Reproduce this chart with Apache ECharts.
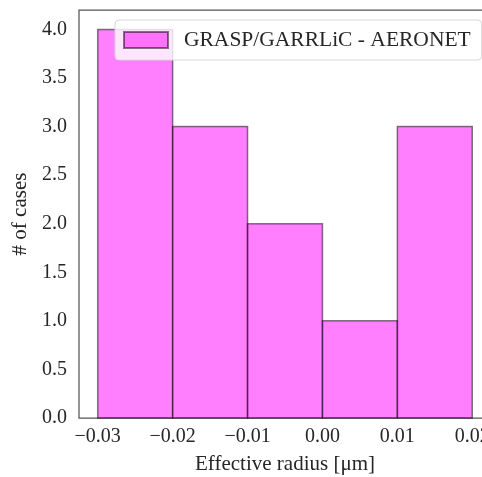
<!DOCTYPE html>
<html>
	<head>
		<meta charset="utf-8"/>
		<title>histogram</title>
		<style type="text/css">
			*{margin: 0;padding: 0;}
			html,body{background: #fff;}
			#chart{width: 482px;height: 477px;}
		</style>
		<script type="text/javascript" src="https://cdn.jsdelivr.net/npm/echarts@6/dist/echarts.min.js"></script>
	</head>
	<body>
		<div id="chart"></div>
		<script type="text/javascript">
			// histogram bins and counts
			var binEdges=[-0.03,-0.02,-0.01,0.00,0.01,0.02];
			var counts=[4,3,2,1,3];
			var xTicks=[-0.03,-0.02,-0.01,0.00,0.01,0.02];
			var yTicks=[0,0.5,1,1.5,2,2.5,3,3.5,4];
			var seriesName="GRASP/GARRLiC - AERONET";

			var font="'Liberation Serif','Times New Roman',serif";
			var bins=[];
			for(var i=0;i<counts.length;i++){
				bins.push([binEdges[i],binEdges[i+1],counts[i]]);
			}
			function onTick(v,list){
				for(var k=0;k<list.length;k++){
					if(Math.abs(v-list[k])<1e-9) return true;
				}
				return false;
			}

			var chart=echarts.init(document.getElementById('chart'));
			chart.setOption({
				animation:false,
				grid:{
					left:79,right:-9,top:10,bottom:59,
					outerBoundsMode:'none',containLabel:false,
					show:true,borderColor:'#555',borderWidth:1.25,backgroundColor:'#fff'
				},
				legend:{
					left:115,top:20,
					icon:'rect',itemWidth:44,itemHeight:16,
					padding:[9,11,9,8],
					backgroundColor:'rgba(255,255,255,0.8)',
					borderColor:'#d6d6d6',borderWidth:1,borderRadius:4,
					textStyle:{fontFamily:font,fontSize:21.5,color:'#262626',padding:[0,0,0,11]},
					data:[seriesName]
				},
				xAxis:{
					type:'value',min:-0.0325,max:0.0225,interval:0.0025,
					name:'Effective radius [μm]',nameLocation:'middle',nameGap:36,
					nameTextStyle:{fontFamily:font,fontSize:21,color:'#262626'},
					axisLine:{show:false},axisTick:{show:false},splitLine:{show:false},
					axisLabel:{
						fontFamily:font,fontSize:20,color:'#262626',margin:9,
						formatter:function(v){
							if(!onTick(v,xTicks)) return '';
							return v.toFixed(2).replace('-','\u2212');
						}
					}
				},
				yAxis:{
					type:'value',min:0,max:4.2,interval:0.5,
					name:'# of cases',nameLocation:'middle',nameGap:37,
					nameTextStyle:{fontFamily:font,fontSize:21,color:'#262626'},
					axisLine:{show:false},axisTick:{show:false},splitLine:{show:false},
					axisLabel:{
						fontFamily:font,fontSize:20,color:'#262626',margin:12,
						formatter:function(v){
							if(!onTick(v,yTicks)) return '';
							return v.toFixed(1);
						}
					}
				},
				series:[{
					name:seriesName,
					type:'custom',
					itemStyle:{color:'rgba(255,0,255,0.5)',borderColor:'rgba(0,0,0,0.5)',borderWidth:1.5},
					encode:{x:[0,1],y:2},
					data:bins,
					renderItem:function(params,api){
						var p0=api.coord([api.value(0),0]);
						var p1=api.coord([api.value(1),api.value(2)]);
						return {
							type:'rect',
							shape:{x:p0[0],y:p1[1],width:p1[0]-p0[0],height:p0[1]-p1[1]},
							style:{fill:'rgba(255,0,255,0.5)',stroke:'rgba(0,0,0,0.5)',lineWidth:1.5}
						};
					}
				}]
			});
		</script>
	</body>
</html>
